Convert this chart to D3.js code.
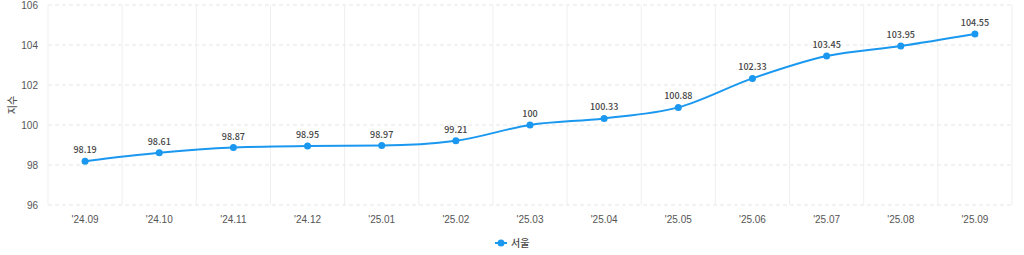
<!DOCTYPE html>
<html>
<head>
<meta charset="utf-8">
<script src="https://cdn.jsdelivr.net/npm/d3@7"></script>
<style>
  body { margin: 0; background: #fff; }
  svg { display: block; font-family: "Noto Sans CJK KR", "Noto Sans", sans-serif; }
</style>
</head>
<body>
<svg id="chart" width="1024" height="255"></svg>
<script>
// 데이터
const months = ["'24.09", "'24.10", "'24.11", "'24.12", "'25.01", "'25.02", "'25.03",
                "'25.04", "'25.05", "'25.06", "'25.07", "'25.08", "'25.09"]
const seoul = [98.19, 98.61, 98.87, 98.95, 98.97, 99.21, 100, 100.33, 100.88, 102.33, 103.45, 103.95, 104.55]
const yTicks = [96, 98, 100, 102, 104, 106]
const seriesName = "서울"

const width = 1024
const height = 255
const margin = {top: 5, right: 12, bottom: 50, left: 48}
const color = "#1a98f0"

const svg = d3.select("#chart")

const x = d3.scaleBand()
  .domain(months)
  .range([margin.left, width - margin.right])

const y = d3.scaleLinear()
  .domain([96, 106])
  .range([height - margin.bottom, margin.top])

// 가로 격자 (점선)
svg.append("g")
  .selectAll("line")
  .data(yTicks)
  .join("line")
  .attr("x1", margin.left)
  .attr("x2", width - margin.right)
  .attr("y1", d => y(d))
  .attr("y2", d => y(d))
  .attr("stroke", "#e6e6e6")
  .attr("stroke-dasharray", "4,3")

// 세로 격자
const bounds = months.map(m => x(m)).concat([width - margin.right])
svg.append("g")
  .selectAll("line")
  .data(bounds)
  .join("line")
  .attr("x1", d => d)
  .attr("x2", d => d)
  .attr("y1", margin.top)
  .attr("y2", height - margin.bottom)
  .attr("stroke", "#efefef")

// y축
const yAxis = svg.append("g")
  .attr("transform", "translate(" + margin.left + ",0)")
  .call(d3.axisLeft(y).tickValues(yTicks).tickSize(0).tickPadding(10))
yAxis.select(".domain").remove()
yAxis.selectAll("text").attr("fill", "#555").attr("font-size", 10).attr("font-weight", 500)

// x축
const xAxis = svg.append("g")
  .attr("transform", "translate(0," + (height - margin.bottom) + ")")
  .call(d3.axisBottom(x).tickSize(0).tickPadding(11))
xAxis.select(".domain").remove()
xAxis.selectAll("text").attr("fill", "#555").attr("font-size", 10).attr("font-weight", 500)

// y축 제목
svg.append("text")
  .attr("transform", "translate(16," + (y(101)) + ") rotate(-90)")
  .attr("text-anchor", "middle")
  .attr("fill", "#555")
  .attr("font-size", 10)
  .attr("font-weight", 500)
  .text("지수")

// 선
const cx = (d, i) => x(months[i]) + x.bandwidth() / 2
const line = d3.line()
  .x(cx)
  .y(d => y(d))
  .curve(d3.curveMonotoneX)

svg.append("path")
  .datum(seoul)
  .attr("fill", "none")
  .attr("stroke", color)
  .attr("stroke-width", 2)
  .attr("d", line)

// 점
svg.append("g")
  .selectAll("circle")
  .data(seoul)
  .join("circle")
  .attr("cx", cx)
  .attr("cy", d => y(d))
  .attr("r", 3.5)
  .attr("fill", color)

// 값 라벨
svg.append("g")
  .selectAll("text")
  .data(seoul)
  .join("text")
  .attr("x", cx)
  .attr("y", d => y(d) - 8)
  .attr("text-anchor", "middle")
  .attr("fill", "#444")
  .attr("font-size", 9)
  .attr("font-weight", 500)
  .text(d => d)

// 범례
const lg = svg.append("g").attr("transform", "translate(501,243)")
lg.append("line")
  .attr("x1", -6).attr("x2", 6)
  .attr("stroke", color).attr("stroke-width", 2)
lg.append("circle").attr("r", 3.5).attr("fill", color)
lg.append("text")
  .attr("x", 10)
  .attr("dy", "0.35em")
  .attr("fill", "#444")
  .attr("font-size", 10)
  .attr("font-weight", 500)
  .text(seriesName)
</script>
</body>
</html>
